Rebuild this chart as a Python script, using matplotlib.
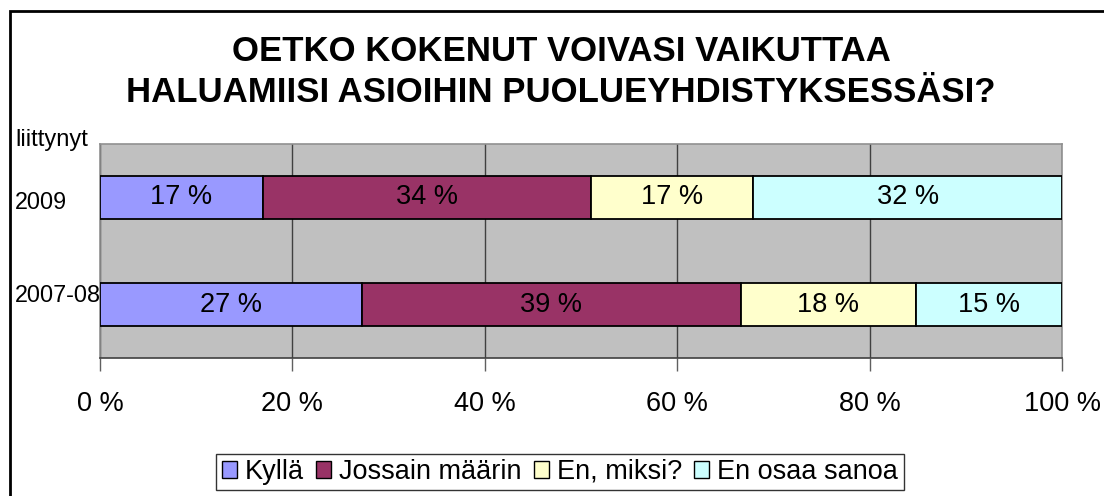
import matplotlib
matplotlib.use("Agg")
import matplotlib.pyplot as plt
from matplotlib.patches import Patch, Rectangle
from matplotlib.transforms import blended_transform_factory

plt.rcParams["font.family"] = ["Liberation Sans", "DejaVu Sans"]

# data (percent shares)
categories = ["2007-08", "2009"]          # bottom -> top
series_names = ["Kyllä", "Jossain määrin", "En, miksi?", "En osaa sanoa"]
kylla = [27.2, 16.9]
jossain = [39.4, 34.1]
en_miksi = [18.2, 16.9]
en_osaa = [15.2, 32.1]
labels_2007 = ["27 %", "39 %", "18 %", "15 %"]
labels_2009 = ["17 %", "34 %", "17 %", "32 %"]
xticks = [0, 20, 40, 60, 80, 100]
xtick_labels = ["0 %", "20 %", "40 %", "60 %", "80 %", "100 %"]
title = "OETKO KOKENUT VOIVASI VAIKUTTAA\nHALUAMIISI ASIOIHIN PUOLUEYHDISTYKSESSÄSI?"
axis_title = "liittynyt"

colors = ["#9999FF", "#993366", "#FFFFCC", "#CCFFFF"]

W, H = 1104, 496
fig = plt.figure(figsize=(W / 100, H / 100), dpi=100)

# outer chart border (runs off right/bottom edge)
fig.patches.append(Rectangle((10 / W, -0.1), 1.2, 1 - 11 / H + 0.1, transform=fig.transFigure,
                             fill=False, edgecolor="black", linewidth=2))

ax = fig.add_axes([100 / W, 1 - 358 / H, 962 / W, 214 / H])
ax.set_facecolor("#C0C0C0")

series = [kylla, jossain, en_miksi, en_osaa]
bar_labels = [[labels_2007[i], labels_2009[i]] for i in range(4)]
ypos = list(range(len(categories)))
left = [0.0] * len(categories)
for vals, col, name, labs in zip(series, colors, series_names, bar_labels):
    bars = ax.barh(ypos, vals, left=left, height=0.4, color=col, edgecolor="black",
                   linewidth=1.3, zorder=3, label=name)
    ax.bar_label(bars, labels=labs, label_type="center", fontsize=19.5, color="black", zorder=4)
    left = [l + v for l, v in zip(left, vals)]

ax.set_xlim(0, 100)
ax.set_ylim(-0.5, 1.5)
ax.set_xticks(xticks)
ax.set_xticklabels(xtick_labels, fontsize=19.5)
ax.tick_params(axis="x", length=9, width=1, color="#606060", pad=15)
ax.set_yticks([])
ax.grid(axis="x", color="#404040", linewidth=1, zorder=1)
for s in ["top", "right", "left"]:
    ax.spines[s].set_color("#909090")
    ax.spines[s].set_linewidth(1.2)
ax.spines["bottom"].set_color("#404040")
ax.spines["bottom"].set_linewidth(1.2)

# category labels at left edge of the chart
tr = blended_transform_factory(fig.transFigure, ax.transData)
cat_shift = [0.08, -0.05]
for y, cat, dy in zip(ypos, categories, cat_shift):
    ax.text(15 / W, y + dy, cat, transform=tr, ha="left", va="center", fontsize=16.8)
fig.text(15 / W, 1 - 140 / H, axis_title, ha="left", va="center", fontsize=17)

fig.text(561 / W, 1 - 72 / H, title, ha="center", va="center", fontsize=25,
         fontweight="bold", linespacing=1.3)

handles = [Patch(facecolor=c, edgecolor="black", label=n) for c, n in zip(colors, series_names)]
leg = fig.legend(handles=handles, loc="center", bbox_to_anchor=(560 / W, 1 - 472 / H),
                 ncol=4, frameon=True, fancybox=False, fontsize=19.5, handlelength=0.55,
                 handleheight=0.55, handletextpad=0.3, columnspacing=0.45, borderpad=0.2)
leg.get_frame().set_edgecolor("black")
leg.get_frame().set_linewidth(1)

fig.savefig("out.png", dpi=100)
